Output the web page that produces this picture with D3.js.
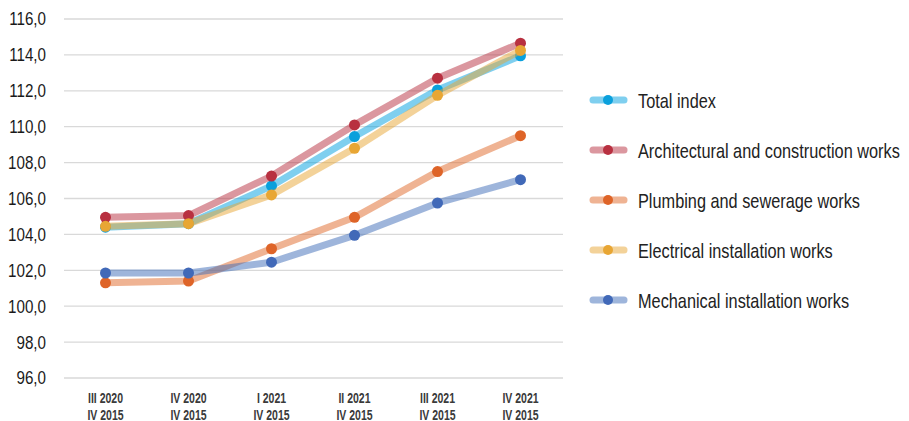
<!DOCTYPE html>
<html>
<head>
<meta charset="utf-8">
<script src="https://cdn.jsdelivr.net/npm/d3@7"></script>
<style>
  body { margin: 0; background: #fff; }
  text { font-family: "Liberation Sans", Arial, sans-serif; }
</style>
</head>
<body>
<div id="chart"></div>
<script>
let quarters = ["III 2020", "IV 2020", "I 2021", "II 2021", "III 2021", "IV 2021"];
let baseLabel = "IV 2015";

let seriesNames = ["Total index", "Architectural and construction works", "Plumbing and sewerage works",
    "Electrical installation works", "Mechanical installation works"];

let totalIndex = [104.4, 104.6, 106.7, 109.45, 112.05, 113.95];
let archWorks = [104.95, 105.05, 107.25, 110.1, 112.7, 114.65];
let plumbingWorks = [101.3, 101.4, 103.2, 104.95, 107.5, 109.5];
let electricalWorks = [104.45, 104.6, 106.2, 108.8, 111.75, 114.25];
let mechanicalWorks = [101.85, 101.85, 102.45, 103.95, 105.75, 107.05];

let lineColors = ["#00a0e0", "#b83040", "#e06828", "#e8a634", "#3e6bb8"];
let dotColors = ["#0aa0dc", "#b83040", "#de6428", "#e8a634", "#4169b8"];

let yTicks = [96, 98, 100, 102, 104, 106, 108, 110, 112, 114, 116];

// squeeze text horizontally to mimic the condensed face of the original
function condense(sel, k){
    sel.each(function(){
        let w = this.getComputedTextLength();
        d3.select(this).attr("textLength", w * k).attr("lengthAdjust", "spacingAndGlyphs");
    });
}

function main(){
    let width = 909, height = 421;
    let svg = d3.select("#chart").append("svg")
        .attr("width", width)
        .attr("height", height);

    let xScale = d3.scalePoint().domain(quarters).range([64, 562]).padding(0.5);
    let yScale = d3.scaleLinear().domain([96, 116]).range([378, 19]);

    let fmt = v => d3.format(".1f")(v).replace(".", ",");

    // grid
    svg.append("g")
        .selectAll("line")
        .data(yTicks)
        .enter()
        .append("line")
        .attr("x1", 64)
        .attr("x2", 563)
        .attr("y1", d => yScale(d))
        .attr("y2", d => yScale(d))
        .attr("stroke", "#d9d9d9")
        .attr("stroke-width", 1.3);

    // y labels
    let yAxis = svg.append("g")
        .attr("transform", "translate(46,0)")
        .call(d3.axisLeft(yScale).tickValues(yTicks).tickFormat(fmt).tickSize(0).tickPadding(0));
    yAxis.select(".domain").remove();
    yAxis.selectAll("text")
        .attr("font-family", "Liberation Sans, sans-serif")
        .attr("font-size", 18.5)
        .attr("fill", "#1a1a1a")
        .call(condense, 0.82);

    // x labels (two lines each)
    let xg = svg.append("g")
        .selectAll("g")
        .data(quarters)
        .enter()
        .append("g");
    xg.append("text")
        .attr("x", d => xScale(d))
        .attr("y", 403)
        .attr("text-anchor", "middle")
        .attr("font-size", 14)
        .attr("font-weight", "bold")
        .attr("fill", "#3a3a3a")
        .text(d => d)
        .call(condense, 0.75);
    xg.append("text")
        .attr("x", d => xScale(d))
        .attr("y", 419.5)
        .attr("text-anchor", "middle")
        .attr("font-size", 14)
        .attr("font-weight", "bold")
        .attr("fill", "#3a3a3a")
        .text(baseLabel)
        .call(condense, 0.75);

    let allSeries = [totalIndex, archWorks, plumbingWorks, electricalWorks, mechanicalWorks];
    let line = d3.line()
        .x((d, i) => xScale(quarters[i]))
        .y(d => yScale(d));

    allSeries.forEach(function(values, k){
        let g = svg.append("g");
        g.append("path")
            .attr("d", line(values))
            .attr("fill", "none")
            .attr("stroke", lineColors[k])
            .attr("stroke-opacity", 0.5)
            .attr("stroke-width", 7)
            .attr("stroke-linejoin", "round");
        g.selectAll("circle")
            .data(values)
            .enter()
            .append("circle")
            .attr("cx", (d, i) => xScale(quarters[i]))
            .attr("cy", d => yScale(d))
            .attr("r", 5.5)
            .attr("fill", dotColors[k]);
    });

    // legend
    let legend = svg.append("g")
        .selectAll("g")
        .data(seriesNames)
        .enter()
        .append("g")
        .attr("transform", (d, i) => "translate(0," + (100 + i * 50) + ")");
    legend.append("line")
        .attr("x1", 593)
        .attr("x2", 624)
        .attr("stroke", (d, i) => lineColors[i])
        .attr("stroke-opacity", 0.5)
        .attr("stroke-width", 7)
        .attr("stroke-linecap", "round");
    legend.append("circle")
        .attr("cx", 608)
        .attr("r", 5)
        .attr("fill", (d, i) => dotColors[i]);
    let legendText = legend.append("g")
        .attr("transform", "translate(638,7.5)")
        .append("text")
        .attr("font-size", 20)
        .attr("fill", "#222")
        .text(d => d);
    // fit the longest entry to the width it has in the original
    let longest = d3.max(legendText.nodes(), n => n.getComputedTextLength());
    legendText.attr("transform", "scale(" + (262 / longest) + ",1)");
}

main();
</script>
</body>
</html>
